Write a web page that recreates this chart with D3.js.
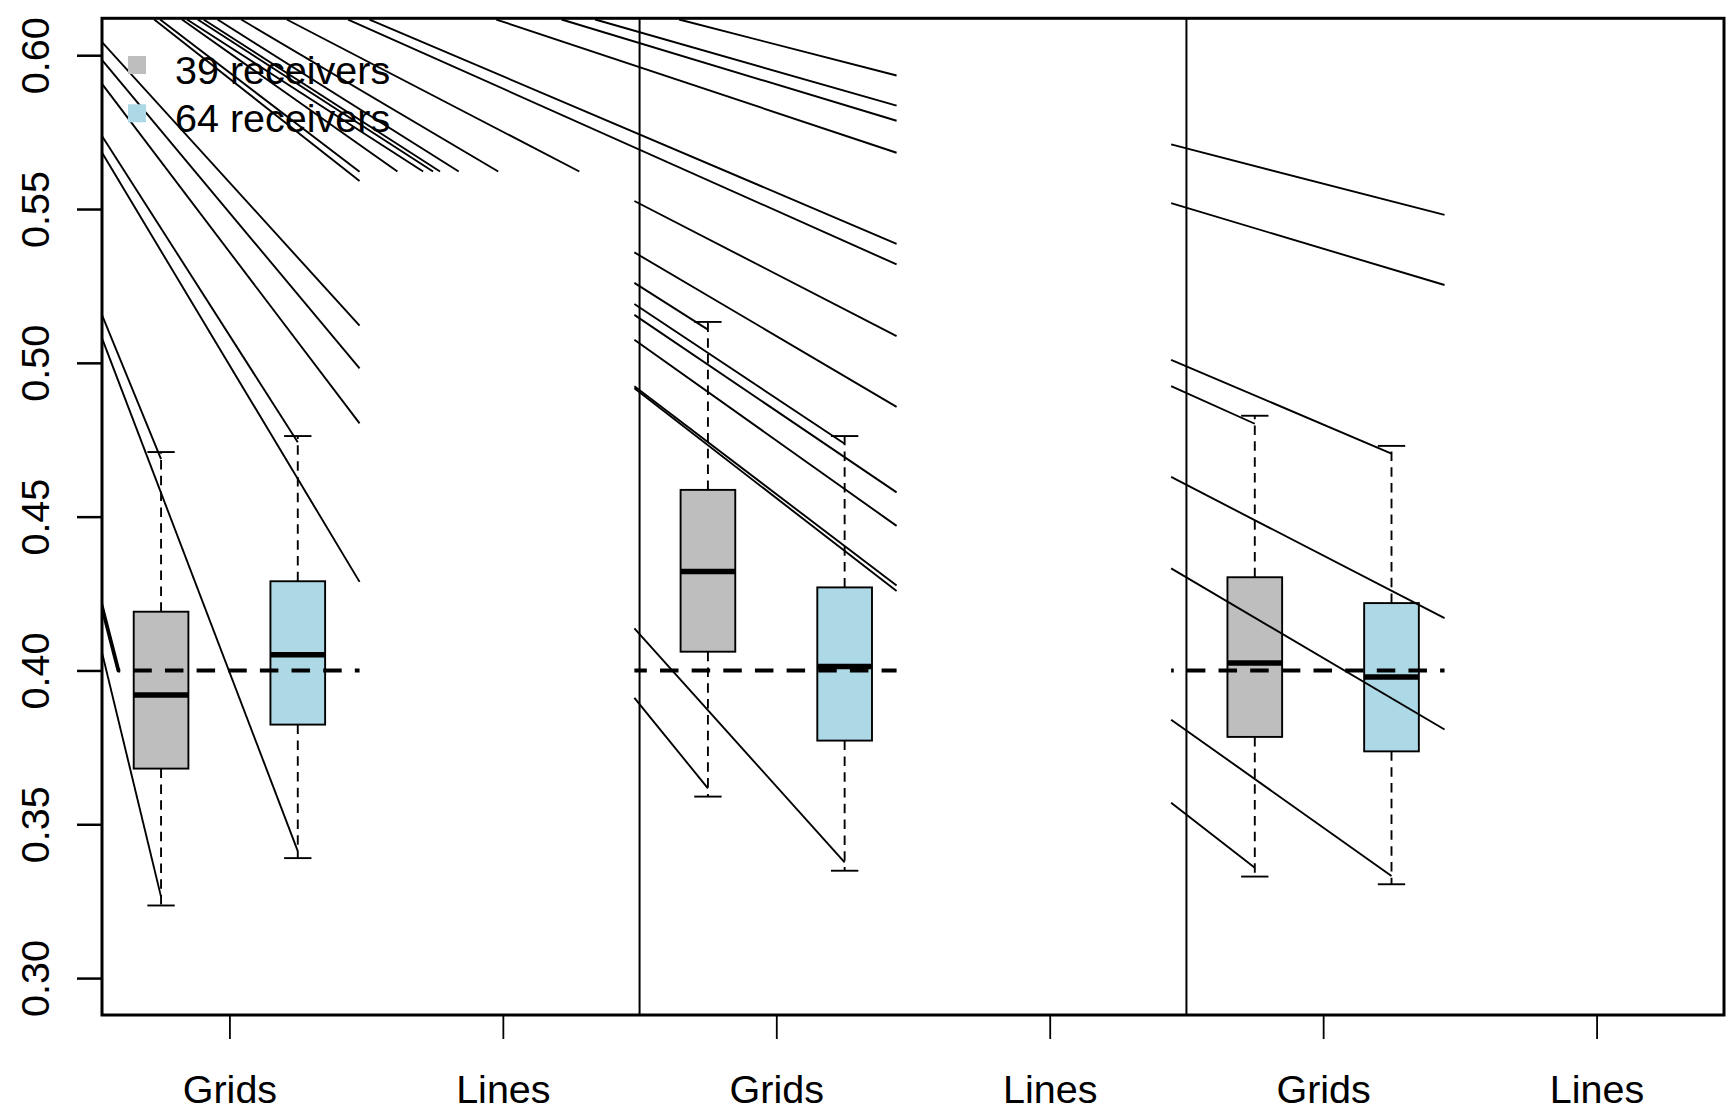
<!DOCTYPE html>
<html><head><meta charset="utf-8">
<script src="https://cdn.jsdelivr.net/npm/d3@7"></script>
<style>
body{margin:0;background:#fff}
text{font-family:"Liberation Sans",Arial,Helvetica,sans-serif}
</style>
</head><body>
<svg id="chart" width="1729" height="1117"></svg>
<script>
// ---------- data ----------
const categories = ["Grids", "Lines", "Grids", "Lines", "Grids", "Lines"];
const categoryPos = [1, 2, 3, 4, 5, 6];
const yTicks = [0.30, 0.35, 0.40, 0.45, 0.50, 0.55, 0.60];
const legendLabels = ["39 receivers", "64 receivers"];
const groupColors = ["#BEBEBE", "#ADD8E6"];

// boxplots
const boxPos    = [0.75, 1.25, 2.75, 3.25, 4.75, 5.25];
const boxGroup  = [0, 1, 0, 1, 0, 1];
const whiskerLo = [0.3236, 0.3390, 0.3590, 0.3349, 0.3330, 0.3305];
const q1        = [0.3681, 0.3824, 0.4061, 0.3772, 0.3784, 0.3737];
const medians   = [0.3920, 0.4051, 0.4322, 0.4013, 0.4024, 0.3979];
const q3        = [0.4191, 0.4290, 0.4587, 0.4270, 0.4303, 0.4219];
const whiskerHi = [0.4710, 0.4762, 0.5133, 0.4762, 0.4828, 0.4730];

// panels (reference line spans)
const panelStart = [0.594, 2.481, 4.444];
const panelEnd   = [1.476, 3.440, 5.444];
const separators = [2.5, 4.5];
const refValue = 0.40;

// line segments [x0, y0, x1, y1]
const panel1Lines = [
  [0.476, 0.6099, 1.476, 0.5121],
  [0.476, 0.6046, 1.476, 0.4982],
  [0.476, 0.5975, 1.476, 0.4803],
  [0.476, 0.5818, 1.25, 0.4742],
  [0.476, 0.5769, 1.476, 0.4288],
  [0.476, 0.5281, 0.75, 0.4687],
  [0.476, 0.5215, 1.25, 0.3413],
  [0.476, 0.4272, 0.75, 0.3264]
];
const panel1Thick = [[0.476, 0.4407, 0.594, 0.40]];
const topLines = [
  [0.7250, 0.6116, 1.476, 0.5591],
  [0.7465, 0.6116, 1.476, 0.5621],
  [0.8266, 0.6116, 1.6145, 0.5622],
  [0.8450, 0.6116, 1.7085, 0.5622],
  [0.8840, 0.6116, 1.7447, 0.5622],
  [0.9056, 0.6116, 1.7703, 0.5622],
  [0.9565, 0.6116, 1.8387, 0.5622],
  [1.0432, 0.6116, 1.9832, 0.5622],
  [1.2096, 0.6116, 2.2798, 0.5622]
];
const longLines = [
  [1.4340, 0.6116, 3.440, 0.5320],
  [1.5125, 0.6116, 3.440, 0.5387],
  [1.9760, 0.6116, 3.440, 0.5683],
  [2.2147, 0.6116, 3.440, 0.5787],
  [2.3376, 0.6116, 3.440, 0.5836],
  [2.6445, 0.6116, 3.440, 0.5934]
];
const panel2Lines = [
  [2.481, 0.5526, 3.440, 0.5087],
  [2.481, 0.5359, 3.440, 0.4857],
  [2.481, 0.5260, 2.75, 0.5108],
  [2.481, 0.5191, 3.25, 0.4737],
  [2.481, 0.5156, 3.440, 0.4579],
  [2.481, 0.5075, 3.440, 0.4470],
  [2.481, 0.4924, 3.440, 0.4276],
  [2.481, 0.4917, 3.440, 0.4258],
  [2.481, 0.4137, 3.25, 0.3376],
  [2.481, 0.3911, 2.75, 0.3617]
];
const panel3Lines = [
  [4.444, 0.5710, 5.444, 0.5481],
  [4.444, 0.5519, 5.444, 0.5253],
  [4.444, 0.5010, 5.25, 0.4705],
  [4.444, 0.4924, 4.75, 0.4802],
  [4.444, 0.4629, 5.444, 0.4170],
  [4.444, 0.4332, 5.444, 0.3808],
  [4.444, 0.3840, 5.25, 0.3332],
  [4.444, 0.3570, 4.75, 0.3359]
];

// ---------- layout ----------
const L = 102, R = 1724, T = 18.3, B = 1015;
const x = d3.scaleLinear().domain([0.534, 6.466]).range([L, R]);
const y = d3.scaleLinear().domain([0.288, 0.612]).range([B, T]);
const boxW = 0.2, capW = 0.1;
const FONT = 39.5;

const svg = d3.select("#chart");
svg.append("defs").append("clipPath").attr("id", "plotclip")
  .append("rect").attr("x", L).attr("y", T).attr("width", R - L).attr("height", B - T);
const plot = svg.append("g").attr("clip-path", "url(#plotclip)");

// boxes
const boxes = boxPos.map((p, i) => ({p, g: boxGroup[i], lo: whiskerLo[i], q1: q1[i], med: medians[i], q3: q3[i], hi: whiskerHi[i]}));
const bg = plot.append("g");
boxes.forEach(b => {
  const g = bg.append("g");
  g.append("line").attr("x1", x(b.p)).attr("x2", x(b.p)).attr("y1", y(b.q3)).attr("y2", y(b.hi))
    .attr("stroke", "#000").attr("stroke-width", 1.9).attr("stroke-dasharray", "9.5,6.3");
  g.append("line").attr("x1", x(b.p)).attr("x2", x(b.p)).attr("y1", y(b.q1)).attr("y2", y(b.lo))
    .attr("stroke", "#000").attr("stroke-width", 1.9).attr("stroke-dasharray", "9.5,6.3");
  [b.hi, b.lo].forEach(v => g.append("line")
    .attr("x1", x(b.p - capW / 2)).attr("x2", x(b.p + capW / 2)).attr("y1", y(v)).attr("y2", y(v))
    .attr("stroke", "#000").attr("stroke-width", 1.9));
  g.append("rect").attr("x", x(b.p - boxW / 2)).attr("width", x(b.p + boxW / 2) - x(b.p - boxW / 2))
    .attr("y", y(b.q3)).attr("height", y(b.q1) - y(b.q3))
    .attr("fill", groupColors[b.g]).attr("stroke", "#000").attr("stroke-width", 1.9);
  g.append("line").attr("x1", x(b.p - boxW / 2)).attr("x2", x(b.p + boxW / 2)).attr("y1", y(b.med)).attr("y2", y(b.med))
    .attr("stroke", "#000").attr("stroke-width", 5.5);
});

// thin lines
const allLines = [].concat(panel1Lines, topLines, longLines, panel2Lines, panel3Lines);
plot.append("g").selectAll("line").data(allLines).join("line")
  .attr("x1", d => x(d[0])).attr("y1", d => y(d[1]))
  .attr("x2", d => x(d[2])).attr("y2", d => y(d[3]))
  .attr("stroke", "#000").attr("stroke-width", 1.9);
plot.append("g").selectAll("line").data(panel1Thick).join("line")
  .attr("x1", d => x(d[0])).attr("y1", d => y(d[1]))
  .attr("x2", d => x(d[2])).attr("y2", d => y(d[3]))
  .attr("stroke", "#000").attr("stroke-width", 3.8).attr("stroke-linecap", "round");

// reference dashed line per panel
const dashAnchor = [133.3, 660, 1186.9];
const P = 31.65;
panelStart.forEach((s, i) => {
  const xa = x(s);
  const off = (((xa - dashAnchor[i]) % P) + P) % P;
  plot.append("line").attr("x1", xa).attr("x2", x(panelEnd[i]))
    .attr("y1", y(refValue)).attr("y2", y(refValue))
    .attr("stroke", "#000").attr("stroke-width", 4)
    .attr("stroke-dasharray", "18.5,13.15").attr("stroke-dashoffset", off);
});

// separators
svg.append("g").selectAll("line").data(separators).join("line")
  .attr("x1", d => x(d)).attr("x2", d => x(d)).attr("y1", T).attr("y2", B)
  .attr("stroke", "#000").attr("stroke-width", 2);

// legend
const leg = svg.append("g");
legendLabels.forEach((lab, i) => {
  const cy = 65 + i * 48.3;
  leg.append("rect").attr("x", 128).attr("y", cy - 9).attr("width", 18).attr("height", 18).attr("fill", groupColors[i]);
  leg.append("text").attr("x", 175).attr("y", 83.5 + i * 48).attr("font-size", FONT).attr("fill", "#000").text(lab);
});

// axes
const yAxis = svg.append("g").attr("transform", `translate(${L},0)`)
  .call(d3.axisLeft(y).tickValues(yTicks).tickFormat(d3.format(".2f")).tickSize(25));
yAxis.select(".domain").remove();
yAxis.selectAll(".tick line").attr("stroke-width", 2.5);
yAxis.selectAll(".tick text")
  .attr("x", null).attr("dy", null).attr("y", null)
  .attr("font-size", FONT).attr("font-family", "Liberation Sans, Arial, sans-serif")
  .attr("text-anchor", "middle")
  .attr("transform", `translate(${48.5 - L},0) rotate(-90)`);

const xAxis = svg.append("g").attr("transform", `translate(0,${B})`)
  .call(d3.axisBottom(x).tickValues(categoryPos).tickFormat((d, i) => categories[i]).tickSize(24));
xAxis.select(".domain").remove();
xAxis.selectAll(".tick line").attr("stroke-width", 1.8);
xAxis.selectAll(".tick text").attr("y", 88).attr("dy", null)
  .attr("font-size", FONT).attr("font-family", "Liberation Sans, Arial, sans-serif");

// frame
svg.append("rect").attr("x", L).attr("y", T).attr("width", R - L).attr("height", B - T)
  .attr("fill", "none").attr("stroke", "#000").attr("stroke-width", 3);
</script>
</body></html>
